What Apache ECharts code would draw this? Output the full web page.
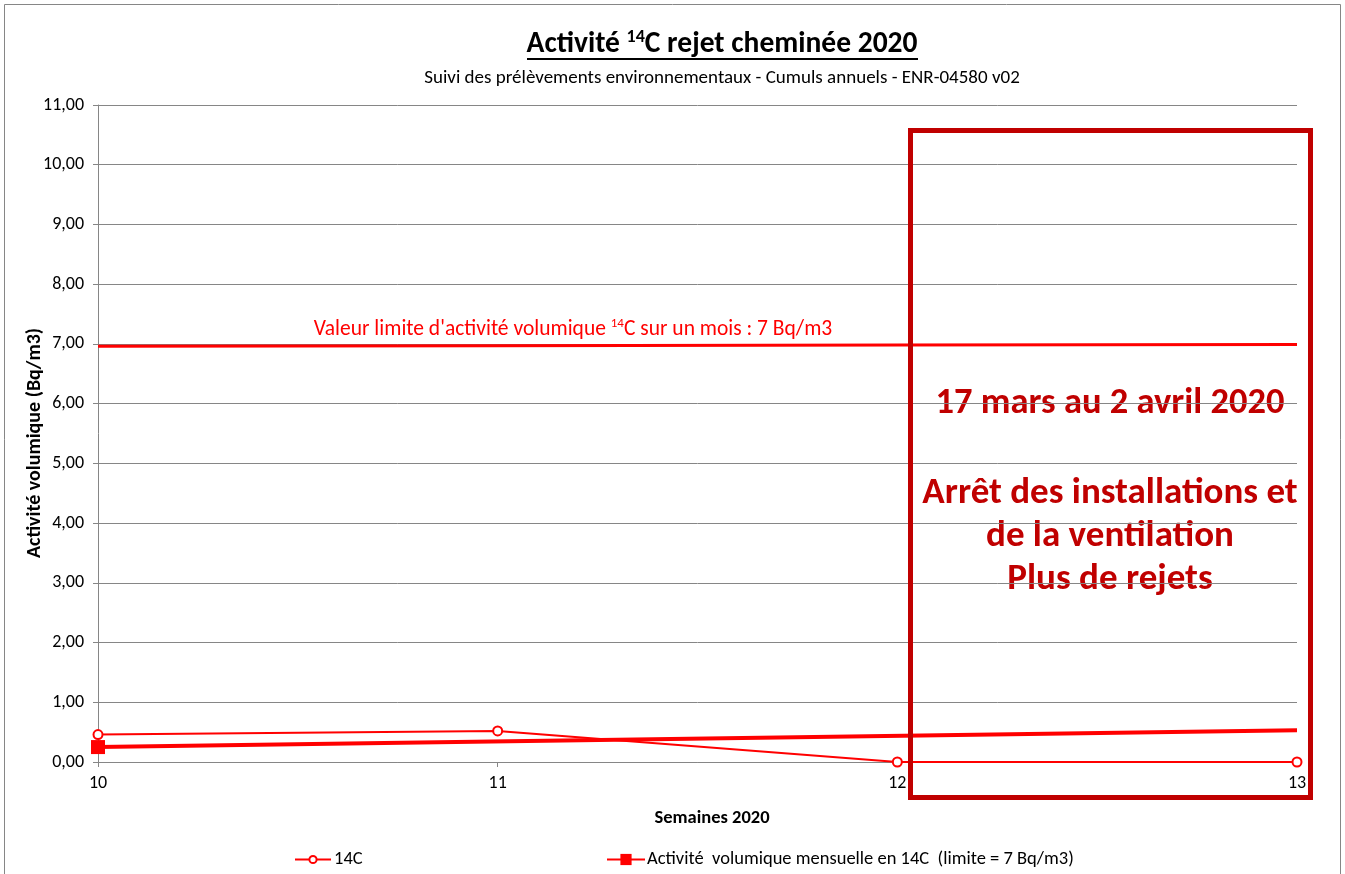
<!DOCTYPE html>
<html><head><meta charset="utf-8">
<script src="https://cdn.jsdelivr.net/npm/echarts@6/dist/echarts.min.js"></script>
<style>html,body{margin:0;padding:0;background:#fff}#c{width:1345px;height:874px}</style>
</head><body><div id="c"></div>
<script>
const weeks = ['10', '11', '12', '13'];
const c14 = [0.46, 0.52, 0.00, 0.00];
const monthly = [0.25, null, null, 0.53];
const limit = [6.96, 6.97, 6.98, 6.99];

const FONT = "Carlito, Lato, 'Liberation Sans', sans-serif";
const RED = '#FF0000';
const DARK = '#C00000';
const S1 = '14C';
const S2 = 'Activité  volumique mensuelle en 14C  (limite = 7 Bq/m3)';

const chart = echarts.init(document.getElementById('c'));
chart.setOption({
  animation: false,
  textStyle: { fontFamily: FONT },
  grid: { left: 98, right: 48, top: 105, bottom: 112 },
  xAxis: {
    type: 'category', data: weeks, boundaryGap: false,
    axisLine: { lineStyle: { color: '#868686', width: 1 } },
    axisTick: { show: true, alignWithLabel: true, length: 5, lineStyle: { color: '#868686' } },
    axisLabel: { color: '#000', fontSize: 18, margin: 12, fontFamily: FONT },
    splitLine: { show: false }
  },
  yAxis: {
    type: 'value', min: 0, max: 11, interval: 1,
    axisLine: { show: true, lineStyle: { color: '#868686', width: 1 } },
    axisTick: { show: true, length: 5, lineStyle: { color: '#868686' } },
    axisLabel: { color: '#000', fontSize: 18, margin: 14, fontFamily: FONT,
      formatter: v => v.toFixed(2).replace('.', ',') },
    splitLine: { show: true, lineStyle: { color: '#868686', width: 1 } }
  },
  legend: [
    { top: 845, left: 289, itemWidth: 36, itemHeight: 9, itemGap: 4,
      textStyle: { fontFamily: FONT, fontSize: 18.5, color: '#000', padding: [0, 0, 0, -2] }, data: [S1] },
    { top: 845, left: 601, itemWidth: 38, itemHeight: 14,
      textStyle: { fontFamily: FONT, fontSize: 18.5, color: '#000', padding: [0, 0, 0, -3] }, data: [S2] }
  ],
  series: [
    {
      name: 'limite', type: 'line', data: limit, symbol: 'none',
      lineStyle: { color: RED, width: 3 }, itemStyle: { color: RED }, z: 2, silent: true
    },
    {
      name: S1, type: 'line', data: c14, symbol: 'emptyCircle', symbolSize: 9,
      lineStyle: { color: RED, width: 2 }, itemStyle: { color: RED, borderWidth: 1 }, z: 3
    },
    {
      name: S2, type: 'line', connectNulls: true,
      data: monthly.map((v, i) => v === null ? null : { value: v, symbol: i === 0 ? 'rect' : 'none' }),
      symbol: 'rect', symbolSize: 14, showAllSymbol: true,
      lineStyle: { color: RED, width: 4 }, itemStyle: { color: RED }, z: 4
    }
  ],
  graphic: [
    { type: 'rect', shape: { x: 4.5, y: 4.5, width: 1336, height: 880 }, style: { fill: null, stroke: '#868686', lineWidth: 1 }, z: 0, silent: true },
    { type: 'text', x: 722, y: 45, style: {
        text: '{t|Activité }{s|14}{t|C rejet cheminée 2020}', align: 'center', verticalAlign: 'middle',
        rich: { t: { fontFamily: FONT, fontWeight: 'bold', fontSize: 29.5, lineHeight: 34, fill: '#000' },
                s: { fontFamily: FONT, fontWeight: 'bold', fontSize: 18, lineHeight: 20, verticalAlign: 'top', fill: '#000' } } } },
    { type: 'line', shape: { x1: 527, y1: 59, x2: 918, y2: 59 }, style: { stroke: '#000', lineWidth: 2 } },
    { type: 'text', x: 722, y: 78, style: { text: 'Suivi des prélèvements environnementaux - Cumuls annuels - ENR-04580 v02', align: 'center', verticalAlign: 'middle', fontFamily: FONT, fontSize: 19, fill: '#000' } },
    { type: 'text', x: 712, y: 818, style: { text: 'Semaines 2020', align: 'center', verticalAlign: 'middle', fontFamily: FONT, fontWeight: 'bold', fontSize: 18.5, fill: '#000' } },
    { type: 'text', x: 35, y: 443, rotation: Math.PI / 2, style: { text: 'Activité volumique (Bq/m3)', align: 'center', verticalAlign: 'middle', fontFamily: FONT, fontWeight: 'bold', fontSize: 20, fill: '#000' } },
    { type: 'text', x: 573, y: 330, style: {
        text: "{t|Valeur limite d'activité volumique }{s|14}{t|C sur un mois : 7 Bq/m3}",
        align: 'center', verticalAlign: 'middle',
        rich: { t: { fontFamily: FONT, fontSize: 21.5, lineHeight: 26, fill: RED }, s: { fontFamily: FONT, fontSize: 13, lineHeight: 14, verticalAlign: 'top', fill: RED } } } },
    { type: 'rect', shape: { x: 910.5, y: 130.5, width: 400, height: 667 }, style: { fill: null, stroke: DARK, lineWidth: 5 }, z: 100 },
    { type: 'text', x: 1110, y: 404, z: -1, style: { text: '17 mars au 2 avril 2020', align: 'center', verticalAlign: 'middle', fontFamily: FONT, fontWeight: 'bold', fontSize: 36.5, fill: DARK } },
    { type: 'text', x: 1110, y: 537, z: -1, style: { text: 'Arrêt des installations et\nde la ventilation\nPlus de rejets', align: 'center', verticalAlign: 'middle', lineHeight: 43, fontFamily: FONT, fontWeight: 'bold', fontSize: 37, fill: DARK } }
  ]
});
</script></body></html>
